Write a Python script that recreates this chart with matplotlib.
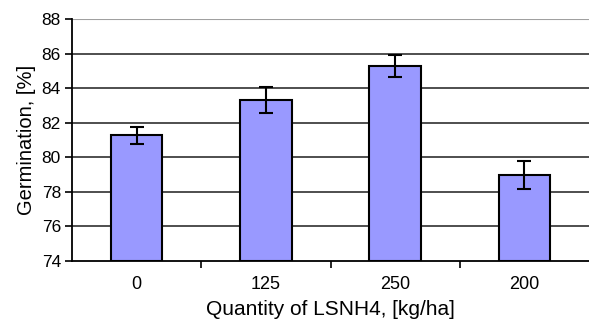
import matplotlib
matplotlib.use("Agg")
import matplotlib.pyplot as plt
import numpy as np

plt.rcParams['font.family'] = ['Liberation Sans', 'DejaVu Sans']

categories = ["0", "125", "250", "200"]
values = [81.27, 83.31, 85.28, 78.96]
errors = [0.5, 0.75, 0.65, 0.8]
yticks = [74, 76, 78, 80, 82, 84, 86, 88]

fig = plt.figure(figsize=(5.89, 3.22), dpi=100)
ax = fig.add_axes([72/589, 1 - 261/322, (589 - 72)/589, (261 - 19)/322])

x = np.arange(len(categories))
ax.set_axisbelow(True)
for t in yticks[1:-1]:
    ax.axhline(t, color='#404040', lw=1.3, zorder=0)
ax.axhline(88, color='#a0a0a0', lw=1.5, zorder=0)

ax.bar(x, np.array(values) - 74, bottom=74, width=0.40, color='#9999ff',
       edgecolor='black', linewidth=1.5, zorder=2)
ax.errorbar(x, values, yerr=errors, fmt='none', ecolor='black', elinewidth=1.5,
            capsize=5, capthick=1.5, zorder=3)

ax.set_xlim(-0.5, len(categories) - 0.5)
ax.set_ylim(74, 88)
ax.set_yticks(yticks)
ax.set_xticks(x)
ax.set_xticklabels(categories)
ax.set_xticks(np.arange(0.5, len(categories) - 0.5, 1), minor=True)
ax.tick_params(axis='x', which='major', length=0, pad=11, labelsize=13)
ax.tick_params(axis='x', which='minor', length=5, width=1.2, color='black', direction='out')
ax.tick_params(axis='y', length=5, width=1.2, direction='out', labelsize=12.5, pad=3)

for s in ['top', 'right']:
    ax.spines[s].set_visible(False)
ax.spines['left'].set_linewidth(1.3)
ax.spines['bottom'].set_linewidth(1.3)

ax.set_ylabel("Germination, [%]", fontsize=14.5, labelpad=4)
ax.set_xlabel("Quantity of LSNH4, [kg/ha]", fontsize=15, labelpad=5)

fig.savefig("out.png", dpi=100)
